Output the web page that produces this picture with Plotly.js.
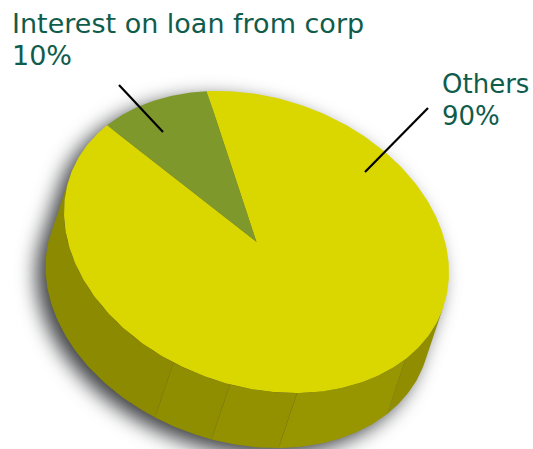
<!DOCTYPE html>
<html>
<head>
<meta charset="utf-8">
<script src="https://cdn.plot.ly/plotly-3.0.1.min.js"></script>
<style>html,body{margin:0;padding:0;background:#fff}#chart{width:533px;height:449px}</style>
</head>
<body>
<div id="chart"></div>
<script>
// Chart values
const categories = ['Interest on loan from corp', 'Others'];
const shares = [10, 90];
const sliceColors = ['#7F982B', '#DAD600'];

// Leader lines from each label to its slice, in plot units
const leaderX = [[119, 163], [428, 365]];
const leaderY = [[85, 132], [108, 172]];
const labelX = [10, 440];
const labelSize = [27, 26];
const nameY = [23, 84];
const percentY = [55, 116];

// Tilted disc geometry
const disc = {cx: 256.5, cy: 242, a: 197.8, b: 144, tilt: 19.6};
const depth = {dx: -18.5, dy: 55};
const firstSliceStart = -155.5;

// Rim shading bands, walking clockwise along the front edge
const rimStops = [0, 24.7, 63.3, 83.4, 101, 180];
const rimColors = ['#908E00', '#989600', '#939100', '#8F8D00', '#8C8A00'];
const seamAngles = [24.7, 63.3, 83.4, 101];

const rad = d => d * Math.PI / 180;
function edge(t, ox = 0, oy = 0) {
  const c = Math.cos(rad(disc.tilt)), s = Math.sin(rad(disc.tilt));
  const u = disc.a * Math.cos(rad(t)), v = disc.b * Math.sin(rad(t));
  return [disc.cx + u * c - v * s + ox, disc.cy + u * s + v * c + oy];
}
function arc(from, to, ox = 0, oy = 0) {
  const n = Math.max(2, Math.ceil(Math.abs(to - from)));
  const pts = [];
  for (let i = 0; i <= n; i++) pts.push(edge(from + (to - from) * i / n, ox, oy));
  return pts;
}
function polygon(pts, color, extra = {}) {
  return Object.assign({
    type: 'scatter', mode: 'lines', x: pts.map(p => p[0]), y: pts.map(p => p[1]),
    fill: 'toself', fillcolor: color, line: {width: 0, color: color},
    hoverinfo: 'skip', showlegend: false
  }, extra);
}

const traces = [];

// Soft drop shadow under the whole body
const sh = {x: -9, y: 7};
traces.push(polygon(
  arc(0, -180, sh.x, sh.y).concat(arc(180, 0, depth.dx + sh.x, depth.dy + sh.y)),
  'rgba(40,42,46,0.9)'
));

// Rim bands between the top edge and the lower edge
rimColors.forEach((col, i) => {
  const t0 = rimStops[i], t1 = rimStops[i + 1];
  traces.push(polygon(arc(t0, t1).concat(arc(t1, t0, depth.dx, depth.dy)), col));
});

// Thin seams between rim bands
const seamX = [], seamY = [];
seamAngles.forEach(t => {
  const p = edge(t), q = edge(t, depth.dx, depth.dy);
  seamX.push(p[0], q[0], null);
  seamY.push(p[1], q[1], null);
});
traces.push({type: 'scatter', mode: 'lines', x: seamX, y: seamY,
  line: {width: 0.6, color: '#878508'}, hoverinfo: 'skip', showlegend: false});

// Top face: one wedge per share, sized by its value
const total = shares.reduce((a, b) => a + b, 0);
let start = firstSliceStart;
shares.forEach((v, i) => {
  const end = start + v / total * 360;
  const pts = [[disc.cx, disc.cy]].concat(arc(start, end));
  pts.push([disc.cx, disc.cy]);
  traces.push(polygon(pts, sliceColors[i], {name: categories[i]}));
  start = end;
});

// Leader lines
leaderX.forEach((xs, i) => {
  traces.push({type: 'scatter', mode: 'lines', x: xs, y: leaderY[i],
    line: {width: 2.2, color: '#000'}, hoverinfo: 'skip', showlegend: false});
});

// Category name and share are placed as separate lines for tight leading
const annotations = [];
categories.forEach((c, i) => {
  const font = {family: '"DejaVu Sans", sans-serif', size: labelSize[i], color: '#0F5C4C'};
  [[c, nameY[i]], [shares[i] + '%', percentY[i]]].forEach(([text, y]) => {
    annotations.push({xref: 'x', yref: 'y', x: labelX[i], y: y,
      xanchor: 'left', yanchor: 'middle', align: 'left', showarrow: false,
      text: text, font: font});
  });
});

const layout = {
  width: 533, height: 449,
  margin: {l: 0, r: 0, t: 0, b: 0},
  paper_bgcolor: '#fff', plot_bgcolor: '#fff',
  xaxis: {range: [0, 533], visible: false, fixedrange: true},
  yaxis: {range: [449, 0], visible: false, fixedrange: true},
  annotations: annotations,
  showlegend: false
};

Plotly.newPlot('chart', traces, layout, {displayModeBar: false, staticPlot: true}).then(() => {
  // Blur the first trace so it reads as a shadow
  const first = document.querySelector('.scatterlayer .trace');
  if (first) first.style.filter = 'blur(10px)';
});
</script>
</body>
</html>
